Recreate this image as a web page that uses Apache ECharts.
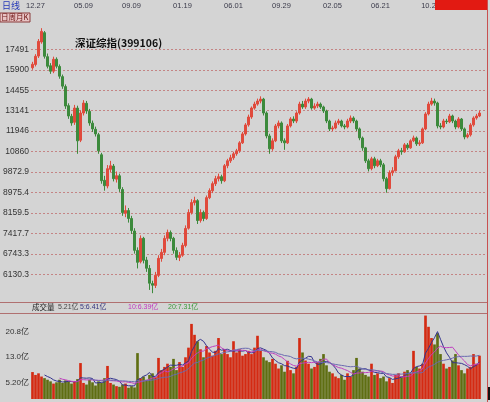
<!DOCTYPE html>
<html><head><meta charset="utf-8">
<script src="https://cdn.jsdelivr.net/npm/echarts@6/dist/echarts.min.js"></script>
<style>html,body{margin:0;padding:0;background:#d4d4d4}#c{width:490px;height:402px}</style>
</head><body><div id="c"></div>
<script>
const dateLabels = ['12.27','05.09','09.09','01.19','06.01','09.29','02.05','06.21','10.2'];
const dateLabelIdx = [1,17,33,50,67,83,100,116,132];
const priceTicks = [6130.3,6743.3,7417.7,8159.5,8975.4,9872.9,10860,11946,13141,14455,15900,17491];
const priceTickLabels = ['6130.3','6743.3','7417.7','8159.5','8975.4','9872.9','10860','11946','13141','14455','15900','17491'];
const volTicks = [5.2, 13.0, 20.8];
const volTickLabels = ['5.20亿','13.0亿','20.8亿'];
const volLegend = ['成交量','5.21亿','5:6.41亿','10:6.39亿','20:7.31亿'];

const opens = [16050,16300,16950,18100,18900,16900,16200,15800,16700,16150,
15400,14700,13450,12800,12450,13300,11450,13000,13600,13100,
12400,12050,11750,10700,9500,9250,10000,10150,9550,9700,
9100,8150,8250,7950,7500,6850,6500,7250,6550,6300,
5870,5820,6100,6600,6790,7250,7450,7250,6850,6630,
6700,7010,7600,8170,8560,8640,7880,8180,7950,8760,
9050,9350,9570,9660,9480,10170,10400,10550,10750,10900,
11310,11790,12300,12760,13300,13550,13740,13870,13000,11680,
11000,11420,12240,12410,11420,11310,12240,12640,12520,13000,
13550,13370,13740,13870,13300,13430,13550,13370,13120,12520,
12070,12120,12410,12520,12240,12180,12520,12700,12520,12070,
11570,11050,10400,10030,10500,10170,10400,10210,9570,9140,
9840,9930,10600,10900,10850,11200,11050,11420,11570,11260,
11310,12070,12940,13550,13740,13620,12240,12180,12520,12480,
12820,12520,12180,12640,12070,11630,11740,12300,12700,12820];
const closes = [16315,16932,18152,19015,16932,16165,15794,16698,16165,15432,
14733,13428,12819,12409,13304,11416,12999,13616,13120,12409,
12069,11793,10898,9483,9265,10026,10166,9571,9705,9137,
8175,8251,7951,7520,6854,6483,7246,6543,6305,5881,
5827,6103,6604,6791,7246,7451,7246,6854,6635,6697,
7015,7590,8175,8563,8643,7877,8175,7951,8763,9053,
9352,9571,9660,9483,10166,10404,10550,10747,10898,11311,
11793,12295,12760,13304,13553,13743,13871,12999,11683,11000,
11416,12238,12409,11416,11311,12238,12642,12525,12999,13553,
13366,13743,13871,13304,13428,13553,13366,13120,12525,12069,
12125,12409,12525,12238,12181,12525,12701,12525,12069,11575,
11051,10404,10026,10501,10166,10404,10213,9571,9137,9841,
9933,10599,10898,10850,11206,11051,11416,11575,11258,11311,
12069,12939,13553,13743,13616,12238,12181,12525,12480,12819,
12525,12181,12642,12069,11629,11738,12295,12701,12819,12999];
const lows = [15900,16150,16800,17950,16750,16000,15600,15650,16000,15250,
14550,13250,12650,12250,12300,10750,11350,12850,12950,12250,
11900,11650,10750,9350,9050,9150,9850,9450,9400,9000,
8050,8000,7800,7400,6750,6300,6450,6450,6200,5700,
5614,5750,6050,6500,6700,7150,7150,6750,6550,6520,
6650,6950,7550,8100,8450,7750,7800,7850,7900,8700,
8950,9250,9450,9350,9420,10050,10300,10450,10650,10800,
11250,11700,12200,12650,13200,13450,13600,12850,11550,10750,
10900,11350,12100,11300,10950,11250,12150,12400,12400,12900,
13250,13250,13600,13200,13200,13300,13250,13000,12400,11950,
11950,12050,12300,12150,12050,12100,12400,12400,11950,11450,
10900,10300,9900,9950,10050,10100,10100,9450,8969,9100,
9700,9900,10500,10700,10800,10950,11000,11350,11150,11150,
11250,12000,12850,13450,13450,12100,12050,12100,12350,12400,
12400,12050,12100,11950,11500,11550,11650,12200,12600,12750];
const highs = [16500,17100,18350,19300,19050,17150,16400,16900,16850,16300,
15550,14850,13600,12950,13500,13450,13150,13800,13750,13250,
12550,12200,11850,10800,9700,10200,10400,10250,9900,9800,
9200,8450,8350,8050,7600,6950,7350,7300,6650,6400,
5950,6200,6700,6900,7350,7550,7520,7300,6950,6800,
7100,7700,8300,8700,8800,8700,8300,8250,8850,9150,
9450,9700,9800,9750,10250,10500,10700,10850,11000,11400,
11900,12400,12900,13400,13700,13900,14050,13950,13100,11800,
11550,12350,12550,12500,11550,12350,12750,12800,13100,13700,
13750,13900,14000,13950,13600,13700,13650,13450,13200,12600,
12250,12550,12650,12600,12350,12650,12850,12800,12600,12150,
11650,11100,10500,10600,10600,10500,10500,10300,9650,9950,
10100,10700,11000,11050,11300,11300,11500,11700,11650,11450,
12150,13050,13700,13950,13900,13700,12400,12650,12650,12950,
12900,12600,12750,12700,12150,11850,12400,12800,12950,13150];
const volumes = [8.4,7.5,8.0,7.0,6.5,
6.0,5.5,4.8,5.2,6.0,5.0,5.8,
5.5,4.8,5.5,6.2,11.2,
5.0,4.5,6.0,5.2,4.2,5.5,
5.0,6.5,10.3,
5.0,4.5,4.0,3.8,4.5,4.8,3.5,4.0,3.6,
14.3,
6.5,7.0,6.0,7.5,8.0,6.8,
12.8,9.0,10.0,
11.0,10.0,12.5,9.0,11.5,10.0,
13.0,16.0,23.4,20.0,18.0,
15.5,13.0,16.5,14.5,13.5,15.0,19.0,14.0,15.5,
14.0,13.0,18.0,14.5,15.5,13.5,
14.0,15.0,14.0,16.0,19.7,15.0,
13.0,12.0,11.5,12.5,11.0,
9.5,10.5,8.5,11.9,9.0,8.0,10.0,19.0,14.5,12.0,
11.0,9.5,10.0,11.5,12.5,14.0,10.5,8.5,
8.0,7.0,6.5,7.5,6.0,8.0,7.0,9.0,12.8,9.5,8.5,7.5,7.0,11.0,7.5,8.0,6.5,7.0,
5.5,6.5,5.0,7.5,8.0,7.0,8.5,9.0,8.0,15.0,10.0,9.5,
11.0,26.0,22.5,19.0,17.0,20.5,
14.0,11.0,9.5,10.0,12.0,14.0,10.5,9.0,8.0,9.5,10.0,14.0,11.0,13.5];

const categories = Array.from({length: closes.length + 2}, (_, i) => String(i));
function ma(n) {
  return volumes.map((v, i) => {
    if (i < n - 1) return '-';
    let s = 0; for (let k = i - n + 1; k <= i; k++) s += volumes[k];
    return +(s / n).toFixed(2);
  });
}
const UP = '#e04a3c', DOWN = '#3c8a3c';
const VUP = '#d42a12', VDOWN = '#5f6e12';
const FONT = 'Liberation Sans, Noto Sans CJK SC, sans-serif';
function nearestLabel(v, ticks, labels) {
  let best = 0, d = Infinity;
  ticks.forEach((t, i) => { const dd = Math.abs(t - v); if (dd < d) { d = dd; best = i; } });
  return labels[best];
}

const chart = echarts.init(document.getElementById('c'), null, {renderer: 'canvas'});
chart.setOption({
  animation: false,
  backgroundColor: '#d4d4d4',
  title: {
    text: '深证综指(399106)', left: 70, top: 33,
    textStyle: {fontSize: 10.5, fontWeight: 'bold', color: '#111', fontFamily: 'Noto Sans CJK SC'}
  },
  grid: [
    {left: 31, right: 3, top: 14, bottom: 100},
    {left: 31, right: 3, top: 313, bottom: 3}
  ],
  xAxis: [
    {type: 'category', gridIndex: 0, data: categories, position: 'top', boundaryGap: true,
     axisLine: {show: false}, axisTick: {show: false}, splitLine: {show: false},
     axisLabel: {
       interval: (i) => dateLabelIdx.indexOf(i) >= 0,
       formatter: (v, i) => { const k = dateLabelIdx.indexOf(i); return k >= 0 ? dateLabels[k] : ''; },
       fontSize: 7.5, color: '#3a3a4a', margin: 4, fontFamily: FONT
     }},
    {type: 'category', gridIndex: 1, data: categories, boundaryGap: true,
     axisLine: {show: false}, axisTick: {show: false}, axisLabel: {show: false}, splitLine: {show: false}}
  ],
  yAxis: [
    {type: 'log', gridIndex: 0, min: 5388, max: 20619, logBase: 10,
     axisLine: {show: false},
     axisTick: {show: false, customValues: priceTicks},
     axisLabel: {customValues: priceTicks, formatter: v => nearestLabel(v, priceTicks, priceTickLabels),
       fontSize: 8.5, color: '#333', margin: 2, fontFamily: FONT},
     splitLine: {show: true, lineStyle: {color: '#c48484', type: [2, 2], width: 1}}},
    {type: 'value', gridIndex: 1, min: 0, max: 26.8,
     axisLine: {show: false},
     axisTick: {show: false, customValues: volTicks},
     axisLabel: {customValues: volTicks, formatter: v => nearestLabel(v, volTicks, volTickLabels),
       fontSize: 8, color: '#333', margin: 2, fontFamily: FONT},
     splitLine: {show: false}}
  ],
  series: [
    {type: 'candlestick', xAxisIndex: 0, yAxisIndex: 0, barWidth: 2,
     data: opens.map((o, i) => [o, closes[i], lows[i], highs[i]]),
     itemStyle: {color: UP, color0: DOWN, borderColor: UP, borderColor0: DOWN, borderWidth: 1}},
    {type: 'bar', xAxisIndex: 1, yAxisIndex: 1, barWidth: '88%',
     data: volumes.map((v, i) => ({value: v, itemStyle: {color: closes[i] >= opens[i] ? VUP : VDOWN}}))},
    {type: 'line', xAxisIndex: 1, yAxisIndex: 1, data: ma(5), symbol: 'none', lineStyle: {color: '#33338f', width: 1}},
    {type: 'line', xAxisIndex: 1, yAxisIndex: 1, data: ma(10), symbol: 'none', lineStyle: {color: '#c040c0', width: 1}},
    {type: 'line', xAxisIndex: 1, yAxisIndex: 1, data: ma(20), symbol: 'none', lineStyle: {color: '#6a6ab0', width: 1}}
  ],
  graphic: [
    {type: 'text', left: 2, top: 1, style: {text: '日线', fill: '#2438b8', font: '9px Noto Sans CJK SC'}},
    {type: 'rect', shape: {x: 0, y: 13, width: 30, height: 9}, style: {fill: '#e8c4c4', stroke: '#8a3a3a', lineWidth: 1}},
    {type: 'text', x: 1, y: 13.5, style: {text: '日周月K', fill: '#6a1010', font: '7.5px Noto Sans CJK SC'}},
    {type: 'rect', z: 100, shape: {x: 435, y: 0, width: 52, height: 10}, style: {fill: '#e21a12'}},
    {type: 'line', shape: {x1: 0, y1: 302.5, x2: 487, y2: 302.5}, style: {stroke: '#b07070', lineWidth: 1}},
    {type: 'line', shape: {x1: 0, y1: 313.5, x2: 487, y2: 313.5}, style: {stroke: '#b07070', lineWidth: 1}},
    {type: 'line', shape: {x1: 487.5, y1: 0, x2: 487.5, y2: 402}, style: {stroke: '#c85050', lineWidth: 1}},
    {type: 'rect', shape: {x: 488, y: 387, width: 2, height: 13}, style: {fill: '#111'}},
    {type: 'text', x: 32, y: 303.5, style: {text: volLegend[0], fill: '#222', font: '7.5px Noto Sans CJK SC'}},
    {type: 'text', x: 58, y: 304, style: {text: volLegend[1], fill: '#444', font: '7px ' + FONT}},
    {type: 'text', x: 80, y: 304, style: {text: volLegend[2], fill: '#34347e', font: '7px ' + FONT}},
    {type: 'text', x: 128, y: 304, style: {text: volLegend[3], fill: '#c038c0', font: '7px ' + FONT}},
    {type: 'text', x: 168, y: 304, style: {text: volLegend[4], fill: '#3a9a3a', font: '7px ' + FONT}}
  ]
});
</script>
</body></html>
